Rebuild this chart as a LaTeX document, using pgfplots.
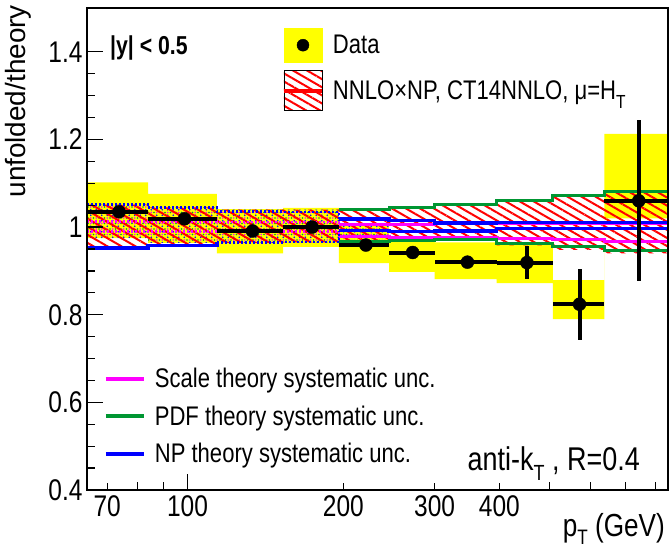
\documentclass[border=0pt]{standalone}
\usepackage{fontspec}
\setmainfont{Liberation Sans}[FakeStretch=0.82]
\newfontfamily\ylabfont{Liberation Sans}
\usepackage{pgfplots}
\usepackage{pgfplotstable}
\pgfplotsset{compat=1.18}
\usepgfplotslibrary{fillbetween}
\usetikzlibrary{patterns.meta}
\definecolor{rgreen}{RGB}{0,150,50}
\definecolor{rblue}{RGB}{0,0,255}
\definecolor{rmag}{RGB}{255,0,255}
\definecolor{ryel}{RGB}{255,255,0}
\definecolor{rred}{RGB}{255,0,0}

% bin low edges (last row = upper edge of last bin)
\pgfplotstableread{
x    yu     yl     tu     tl     gu     gl     nu     nl     su     sl
64   1.102  0.975  1.051  0.952  1.042  0.962  1.051  0.952  1.013  0.990
84   1.076  0.964  1.045  0.958  1.040  0.962  1.045  0.958  1.013  0.990
114  1.041  0.940  1.040  0.964  1.040  0.964  1.036  0.965  1.012  0.990
153  1.044  0.955  1.040  0.965  1.040  0.965  1.035  0.966  1.012  0.990
196  1.005  0.918  1.040  0.967  1.040  0.967  1.019  0.992  1.005  0.978
245  0.967  0.898  1.045  0.969  1.045  0.970  1.015  0.990  1.006  0.977
300  0.965  0.881  1.051  0.969  1.051  0.971  1.009  0.991  1.008  0.976
395  0.963  0.872  1.061  0.958  1.061  0.963  1.011  0.997  1.009  0.975
507  0.879  0.790  1.071  0.948  1.071  0.955  1.011  0.997  1.009  0.972
638  1.213  1.020  1.082  0.940  1.082  0.946  1.011  0.997  1.009  0.968
846  1.213  1.020  1.082  0.940  1.082  0.946  1.011  0.997  1.009  0.968
}\bands

% overlap of data box and theory band (checkered part), bins 1-5
\pgfplotstableread{
x    cu     cl
64   1.051  0.975
84   1.045  0.964
114  1.040  0.964
153  1.040  0.965
196  1.005  0.972
245  1.005  0.972
}\checker

\pgfplotstableread{
x     y      exm    exp    ey
73.8  1.035  9.8    10.2   0.005
98.7  1.019  14.7   15.3   0.005
133.5 0.991  19.5   19.5   0.005
174   1.000  21     22     0.005
221   0.959  25     24     0.005
272   0.942  27     28     0.005
347   0.920  47     48     0.010
452   0.919  57     55     0.037
571   0.824  64     67     0.081
743   1.060  105    103    0.184
}\data

\begin{document}
\begin{tikzpicture}
\begin{axis}[
  at={(0,0)}, anchor=south west,
  scale only axis, width=581bp, height=482bp,
  xmode=log, xmin=64, xmax=846, ymin=0.4, ymax=1.5,
  axis on top,
  axis line style={line width=1.8bp, black},
  xtick={100}, xticklabels={100},
  extra x ticks={70,200,300,400}, extra x tick labels={70,200,300,400},
  extra x tick style={major tick length=7bp},
  minor xtick={80,90,500,600,700,800},
  ytick={0.4,0.6,0.8,1,1.2,1.4}, yticklabels={0.4,0.6,0.8,1,1.2,1.4},
  minor y tick num=3,
  major tick length=16bp, minor tick length=8bp,
  tick style={line width=1.3bp, black},
  xtick pos=left, ytick pos=left, tick align=inside,
  /pgf/number format/assume math mode=true,
  ticklabel style={font=\fontsize{30}{30}\selectfont},
  xticklabel style={yshift=-2bp},
  yticklabel style={xshift=-1bp},
  dotline/.style={line width=2.5bp, dash pattern=on 2bp off 2bp},
]
% data systematic boxes
\addplot[name path=yu, draw=none, const plot] table[x=x, y=yu] {\bands};
\addplot[name path=yl, draw=none, const plot] table[x=x, y=yl] {\bands};
\addplot[fill=ryel, draw=none] fill between[of=yu and yl];
% checkered overlap
\addplot[name path=cu, draw=none, const plot] table[x=x, y=cu] {\checker};
\addplot[name path=cl, draw=none, const plot] table[x=x, y=cl] {\checker};
\addplot[draw=none, pattern={Dots[distance=5.5bp, radius=0.95bp]}, pattern color=rgreen] fill between[of=cu and cl];
\addplot[draw=none, pattern={Dots[distance=5.5bp, radius=0.95bp, xshift=2.75bp, yshift=2.75bp]}, pattern color=rblue] fill between[of=cu and cl];
\addplot[draw=none, pattern={Dots[distance=5.5bp, radius=0.8bp, xshift=2.75bp]}, pattern color=rmag] fill between[of=cu and cl];
% scale (magenta): dotted below 196 GeV, solid above
\addplot[rmag, dotline, const plot, restrict x to domain=4.1:5.279] table[x=x, y=su] {\bands};
\addplot[rmag, dotline, const plot, restrict x to domain=4.1:5.279] table[x=x, y=sl] {\bands};
\addplot[rmag, line width=3bp, const plot, restrict x to domain=5.277:6.8] table[x=x, y=su] {\bands};
\addplot[rmag, line width=3bp, const plot, restrict x to domain=5.277:6.8] table[x=x, y=sl] {\bands};
% NP (blue)
\addplot[rblue, dotline, const plot, restrict x to domain=4.1:5.279] table[x=x, y=nu] {\bands};
\addplot[rblue, line width=3.5bp, const plot, restrict x to domain=5.277:6.8] table[x=x, y=nu] {\bands};
\addplot[rblue, line width=3.5bp, const plot, restrict x to domain=4.1:4.74] table[x=x, y=nl] {\bands};
\addplot[rblue, dotline, const plot, restrict x to domain=4.73:5.279] table[x=x, y=nl] {\bands};
\addplot[rblue, line width=3.5bp, const plot, restrict x to domain=5.277:6.8] table[x=x, y=nl] {\bands};
% total theory hatched band
\addplot[name path=tu, draw=none, const plot] table[x=x, y=tu] {\bands};
\addplot[name path=tl, draw=none, const plot] table[x=x, y=tl] {\bands};
\addplot[draw=none, pattern={Lines[angle=-30, distance=7bp, line width=2bp]}, pattern color=rred] fill between[of=tu and tl];
% PDF (green), visible from 196 GeV on
\addplot[rgreen, line width=3bp, const plot, restrict x to domain=5.277:6.8] table[x=x, y=gu] {\bands};
\addplot[rgreen, line width=3bp, const plot, restrict x to domain=5.277:6.8] table[x=x, y=gl] {\bands};
% data
\addplot[only marks, mark=*, mark size=6.5bp, black,
  error bars/.cd, x dir=both, x explicit, y dir=both, y explicit,
  error bar style={line width=4bp, black}, error mark=none]
  table[x=x, y=y, x error plus=exp, x error minus=exm, y error plus=ey, y error minus=ey] {\data};
\end{axis}

% legend 1
\begin{axis}[
  at={(0,0)}, anchor=south west,
  scale only axis, width=581bp, height=482bp,
  hide axis, xmin=0, xmax=1, ymin=0, ymax=1,
  legend cell align=left,
  legend style={at={(0.3356,0.9585)}, anchor=north west, draw=none, fill=none,
    inner sep=0pt, outer sep=0pt, row sep=8bp,
    font=\fontsize{27}{27}\selectfont,
    nodes={inner sep=0pt},
    /tikz/every odd column/.style={column sep=9bp}},
]
\addlegendimage{legend image code/.code={
  \fill[ryel] (0bp,-17bp) rectangle (38bp,17bp);
  \fill[black] (19bp,0bp) circle (6bp);}}
\addlegendentry{Data}
\addlegendimage{legend image code/.code={
  \fill[pattern={Lines[angle=-30, distance=7bp, line width=2bp]}, pattern color=rred] (0bp,-20bp) rectangle (38bp,20bp);
  \draw[rred, line width=4bp] (0bp,0bp) -- (38bp,0bp);}}
\addlegendentry{NNLO×NP, CT14NNLO, μ=H\raisebox{-9bp}{\fontsize{19}{19}\selectfont T}}
\end{axis}

% legend 2
\begin{axis}[
  at={(0,0)}, anchor=south west,
  scale only axis, width=581bp, height=482bp,
  hide axis, xmin=0, xmax=1, ymin=0, ymax=1,
  legend cell align=left,
  legend style={at={(0.029,0.253)}, anchor=north west, draw=none, fill=none,
    inner sep=0pt, outer sep=0pt, row sep=16.5bp,
    font=\fontsize{27}{27}\selectfont,
    nodes={inner sep=0pt},
    /tikz/every odd column/.style={column sep=9bp}},
]
\addlegendimage{legend image code/.code={\draw[rmag, line width=4bp] (0bp,0bp) -- (38bp,0bp);}}
\addlegendentry{Scale theory systematic unc.}
\addlegendimage{legend image code/.code={\draw[rgreen, line width=4bp] (0bp,0bp) -- (38bp,0bp);}}
\addlegendentry{PDF theory systematic unc.}
\addlegendimage{legend image code/.code={\draw[rblue, line width=4bp] (0bp,0bp) -- (38bp,0bp);}}
\addlegendentry{NP theory systematic unc.}
\end{axis}

\node[anchor=base west, inner sep=0pt, font=\bfseries\fontsize{26}{26}\selectfont] at (23bp,435bp) {|y| < 0.5};
\node[anchor=base east, inner sep=0pt, font=\fontsize{33}{33}\selectfont] at (553bp,20bp)
  {anti-k\raisebox{-10bp}{\fontsize{22}{22}\selectfont T} , R=0.4};
\node[anchor=base east, inner sep=0pt, font=\fontsize{32}{32}\selectfont] at (578bp,-46bp)
  {p\raisebox{-8bp}{\fontsize{21}{21}\selectfont T} (GeV)};
\node[rotate=90, anchor=north east, inner sep=0pt, font=\ylabfont\fontsize{28}{28}\selectfont] at (-82bp,485bp) {unfolded/theory};

\pgfresetboundingbox
\path[use as bounding box] (-87bp,-58bp) rectangle (582bp,490bp);
\end{tikzpicture}
\end{document}
